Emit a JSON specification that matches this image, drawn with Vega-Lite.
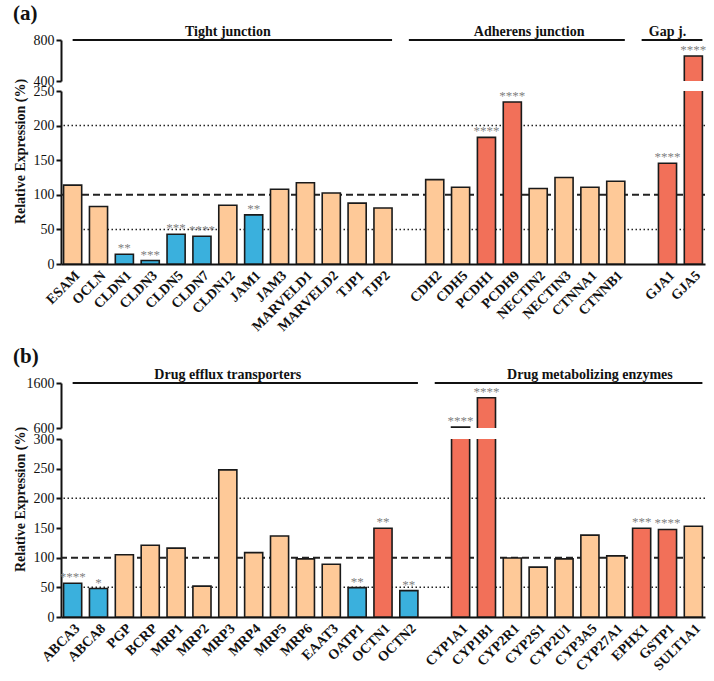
{
  "$schema": "https://vega.github.io/schema/vega-lite/v6.json",
  "background": "white",
  "padding": {"left": 12, "top": 3, "right": 0, "bottom": 0},
  "spacing": 12,
  "datasets": {
    "a": [
      {"gene": "ESAM", "value": 114, "reg": "ns", "stars": ""},
      {"gene": "OCLN", "value": 83, "reg": "ns", "stars": ""},
      {"gene": "CLDN1", "value": 14, "reg": "down", "stars": "**"},
      {"gene": "CLDN3", "value": 5, "reg": "down", "stars": "***"},
      {"gene": "CLDN5", "value": 43, "reg": "down", "stars": "***"},
      {"gene": "CLDN7", "value": 40, "reg": "down", "stars": "****"},
      {"gene": "CLDN12", "value": 85, "reg": "ns", "stars": ""},
      {"gene": "JAM1", "value": 71, "reg": "down", "stars": "**"},
      {"gene": "JAM3", "value": 108, "reg": "ns", "stars": ""},
      {"gene": "MARVELD1", "value": 117.5, "reg": "ns", "stars": ""},
      {"gene": "MARVELD2", "value": 102.6, "reg": "ns", "stars": ""},
      {"gene": "TJP1", "value": 88, "reg": "ns", "stars": ""},
      {"gene": "TJP2", "value": 81, "reg": "ns", "stars": ""},
      {"gene": "CDH2", "value": 122, "reg": "ns", "stars": ""},
      {"gene": "CDH5", "value": 111, "reg": "ns", "stars": ""},
      {"gene": "PCDH1", "value": 183, "reg": "up", "stars": "****"},
      {"gene": "PCDH9", "value": 234, "reg": "up", "stars": "****"},
      {"gene": "NECTIN2", "value": 109, "reg": "ns", "stars": ""},
      {"gene": "NECTIN3", "value": 125, "reg": "ns", "stars": ""},
      {"gene": "CTNNA1", "value": 111, "reg": "ns", "stars": ""},
      {"gene": "CTNNB1", "value": 119.5, "reg": "ns", "stars": ""},
      {"gene": "GJA1", "value": 145.5, "reg": "up", "stars": "****"},
      {"gene": "GJA5", "value": 644, "reg": "up", "stars": "****"}
    ],
    "b": [
      {"gene": "ABCA3", "value": 57, "reg": "down", "stars": "****"},
      {"gene": "ABCA8", "value": 48, "reg": "down", "stars": "*"},
      {"gene": "PGP", "value": 105, "reg": "ns", "stars": ""},
      {"gene": "BCRP", "value": 121, "reg": "ns", "stars": ""},
      {"gene": "MRP1", "value": 116, "reg": "ns", "stars": ""},
      {"gene": "MRP2", "value": 52, "reg": "ns", "stars": ""},
      {"gene": "MRP3", "value": 248, "reg": "ns", "stars": ""},
      {"gene": "MRP4", "value": 108.5, "reg": "ns", "stars": ""},
      {"gene": "MRP5", "value": 136.5, "reg": "ns", "stars": ""},
      {"gene": "MRP6", "value": 98, "reg": "ns", "stars": ""},
      {"gene": "EAAT3", "value": 89, "reg": "ns", "stars": ""},
      {"gene": "OATP1", "value": 49.5, "reg": "down", "stars": "**"},
      {"gene": "OCTN1", "value": 149.5, "reg": "up", "stars": "**"},
      {"gene": "OCTN2", "value": 44.5, "reg": "down", "stars": "**"},
      {"gene": "CYP1A1", "value": 620, "reg": "up", "stars": "****"},
      {"gene": "CYP1B1", "value": 1273, "reg": "up", "stars": "****"},
      {"gene": "CYP2R1", "value": 99.5, "reg": "ns", "stars": ""},
      {"gene": "CYP2S1", "value": 84, "reg": "ns", "stars": ""},
      {"gene": "CYP2U1", "value": 98, "reg": "ns", "stars": ""},
      {"gene": "CYP3A5", "value": 138, "reg": "ns", "stars": ""},
      {"gene": "CYP27A1", "value": 103, "reg": "ns", "stars": ""},
      {"gene": "EPHX1", "value": 149.5, "reg": "up", "stars": "***"},
      {"gene": "GSTP1", "value": 147.5, "reg": "up", "stars": "****"},
      {"gene": "SULT1A1", "value": 153, "reg": "ns", "stars": ""}
    ],
    "hdr": [
      {"panel": "a", "label": "Tight junction", "start": "ESAM", "end": "TJP2", "anchor": "CLDN12"},
      {"panel": "a", "label": "Adherens junction", "start": " ", "end": "CTNNB1", "anchor": "NECTIN2"},
      {"panel": "a", "label": "Gap j.", "start": "  ", "end": "GJA5", "anchor": "GJA1"},
      {"panel": "b", "label": "Drug efflux transporters", "start": "ABCA3", "end": "OCTN2", "anchor": "MRP3"},
      {"panel": "b", "label": "Drug metabolizing enzymes", "start": " ", "end": "SULT1A1", "anchor": "CYP3A5"}
    ],
    "refs": [
      {"value": 50, "kind": "dot"},
      {"value": 200, "kind": "dot"},
      {"value": 100, "kind": "dash"}
    ]
  },
  "config": {
    "font": "Liberation Serif",
    "view": {"stroke": null},
    "axis": {
      "domainColor": "#111", "domainWidth": 2, "tickColor": "#111", "tickWidth": 2, "tickSize": 5,
      "labelFont": "Liberation Serif", "labelFontSize": 14, "labelColor": "#111", "labelPadding": 2,
      "titleFont": "Liberation Serif", "titleFontSize": 14, "titleFontWeight": "bold", "titleColor": "#111",
      "grid": false, "zindex": 1
    },
    "title": {"font": "Liberation Serif"}
  },
  "vconcat": [
    {
      "title": {"text": "(a)", "anchor": "start", "frame": "bounds", "fontSize": 21, "fontWeight": "bold", "offset": 1, "color": "#111"},
      "bounds": "flush",
      "spacing": 10,
      "vconcat": [
        {
          "width": 644, "height": 41,
          "layer": [
            {
              "data": {"name": "a"},
              "transform": [{"filter": "datum.value > 400"}],
              "mark": {"type": "bar", "clip": true, "stroke": "#1a1a1a", "strokeWidth": 1.6},
              "encoding": {
                "x": {"field": "gene", "type": "nominal", "axis": null, "scale": {"domain": ["ESAM","OCLN","CLDN1","CLDN3","CLDN5","CLDN7","CLDN12","JAM1","JAM3","MARVELD1","MARVELD2","TJP1","TJP2"," ","CDH2","CDH5","PCDH1","PCDH9","NECTIN2","NECTIN3","CTNNA1","CTNNB1","  ","GJA1","GJA5"], "paddingInner": 0.3, "paddingOuter": 0.1}},
                "y": {"field": "value", "type": "quantitative", "scale": {"domain": [400, 800], "nice": false, "zero": false}, "axis": {"values": [400, 800], "title": null, "format": "d"}},
                "y2": {"datum": 300},
                "color": {"field": "reg", "type": "nominal", "legend": null, "scale": {"domain": ["down", "ns", "up"], "range": ["#3AB0DD", "#FEC998", "#F27059"]}}
              }
            },
            {
              "data": {"name": "a"},
              "transform": [{"filter": "datum.value > 400"}],
              "mark": {"type": "text", "baseline": "alphabetic", "dy": -2, "fontSize": 13, "color": "#7f7f7f"},
              "encoding": {
                "x": {"field": "gene", "type": "nominal"},
                "y": {"field": "value", "type": "quantitative", "axis": {"values": [400, 800], "title": null, "format": "d"}},
                "text": {"field": "stars"}
              }
            },
            {
              "data": {"name": "hdr"},
              "transform": [{"filter": "datum.panel == 'a'"}],
              "mark": {"type": "rule", "strokeWidth": 2, "color": "#111"},
              "encoding": {
                "x": {"field": "start", "type": "nominal", "bandPosition": 0.5},
                "x2": {"field": "end", "bandPosition": 1},
                "y": {"datum": 800, "type": "quantitative"}
              }
            },
            {
              "data": {"name": "hdr"},
              "transform": [{"filter": "datum.panel == 'a' && datum.label != 'Adherens junction'"}],
              "mark": {"type": "text", "baseline": "alphabetic", "dy": -4, "fontSize": 14, "fontWeight": "bold", "color": "#111"},
              "encoding": {
                "x": {"field": "anchor", "type": "nominal", "bandPosition": 0.5},
                "y": {"datum": 800, "type": "quantitative"},
                "text": {"field": "label"}
              }
            },
            {
              "data": {"name": "hdr"},
              "transform": [{"filter": "datum.label == 'Adherens junction'"}],
              "mark": {"type": "text", "baseline": "alphabetic", "dy": -4, "fontSize": 14, "fontWeight": "bold", "color": "#111"},
              "encoding": {
                "x": {"field": "anchor", "type": "nominal", "bandPosition": 0},
                "y": {"datum": 800, "type": "quantitative"},
                "text": {"field": "label"}
              }
            }
          ]
        },
        {
          "width": 644, "height": 173,
          "layer": [
            {
              "data": {"name": "refs"},
              "transform": [{"filter": "datum.kind == 'dot'"}],
              "mark": {"type": "rule", "strokeDash": [1.5, 2.5], "strokeWidth": 1.5, "color": "#222"},
              "encoding": {
                "y": {"field": "value", "type": "quantitative", "scale": {"domain": [0, 250], "nice": false}, "axis": {"values": [0, 50, 100, 150, 200, 250], "title": "Relative Expression (%)", "titleX": -41, "titleY": 60, "titleBaseline": "middle"}}
              }
            },
            {
              "data": {"name": "refs"},
              "transform": [{"filter": "datum.kind == 'dash'"}],
              "mark": {"type": "rule", "strokeDash": [7, 4], "strokeWidth": 2, "color": "#222"},
              "encoding": {
                "y": {"field": "value", "type": "quantitative", "axis": {"values": [0, 50, 100, 150, 200, 250], "title": "Relative Expression (%)", "titleX": -41, "titleY": 60, "titleBaseline": "middle"}}
              }
            },
            {
              "data": {"name": "a"},
              "mark": {"type": "bar", "clip": true, "stroke": "#1a1a1a", "strokeWidth": 1.6},
              "encoding": {
                "x": {"field": "gene", "type": "nominal", "scale": {"domain": ["ESAM","OCLN","CLDN1","CLDN3","CLDN5","CLDN7","CLDN12","JAM1","JAM3","MARVELD1","MARVELD2","TJP1","TJP2"," ","CDH2","CDH5","PCDH1","PCDH9","NECTIN2","NECTIN3","CTNNA1","CTNNB1","  ","GJA1","GJA5"], "paddingInner": 0.3, "paddingOuter": 0.1}, "axis": {"title": null, "labelAngle": -45, "labelFontWeight": "bold", "labelFontSize": 14, "ticks": false, "labelPadding": 4}},
                "y": {"field": "value", "type": "quantitative", "axis": {"values": [0, 50, 100, 150, 200, 250], "title": "Relative Expression (%)", "titleX": -41, "titleY": 60, "titleBaseline": "middle"}},
                "color": {"field": "reg", "type": "nominal", "legend": null, "scale": {"domain": ["down", "ns", "up"], "range": ["#3AB0DD", "#FEC998", "#F27059"]}}
              }
            },
            {
              "data": {"name": "a"},
              "transform": [{"filter": "datum.value <= 250"}],
              "mark": {"type": "text", "baseline": "alphabetic", "dy": -2, "fontSize": 13, "color": "#7f7f7f"},
              "encoding": {
                "x": {"field": "gene", "type": "nominal"},
                "y": {"field": "value", "type": "quantitative", "axis": {"values": [0, 50, 100, 150, 200, 250], "title": "Relative Expression (%)", "titleX": -41, "titleY": 60, "titleBaseline": "middle"}},
                "text": {"field": "stars"}
              }
            }
          ]
        }
      ]
    },
    {
      "title": {"text": "(b)", "anchor": "start", "frame": "bounds", "fontSize": 21, "fontWeight": "bold", "offset": 1, "color": "#111"},
      "bounds": "flush",
      "spacing": 11,
      "vconcat": [
        {
          "width": 644, "height": 45,
          "layer": [
            {
              "data": {"name": "b"},
              "transform": [{"filter": "datum.value > 600"}],
              "mark": {"type": "bar", "clip": true, "stroke": "#1a1a1a", "strokeWidth": 1.6},
              "encoding": {
                "x": {"field": "gene", "type": "nominal", "axis": null, "scale": {"domain": ["ABCA3","ABCA8","PGP","BCRP","MRP1","MRP2","MRP3","MRP4","MRP5","MRP6","EAAT3","OATP1","OCTN1","OCTN2"," ","CYP1A1","CYP1B1","CYP2R1","CYP2S1","CYP2U1","CYP3A5","CYP27A1","EPHX1","GSTP1","SULT1A1"], "paddingInner": 0.3, "paddingOuter": 0.1}},
                "y": {"field": "value", "type": "quantitative", "scale": {"domain": [600, 1600], "nice": false, "zero": false}, "axis": {"values": [600, 1600], "title": null, "format": "d"}},
                "y2": {"datum": 400},
                "color": {"field": "reg", "type": "nominal", "legend": null, "scale": {"domain": ["down", "ns", "up"], "range": ["#3AB0DD", "#FEC998", "#F27059"]}}
              }
            },
            {
              "data": {"name": "b"},
              "transform": [{"filter": "datum.value > 600"}],
              "mark": {"type": "text", "baseline": "alphabetic", "dy": -2, "fontSize": 13, "color": "#7f7f7f"},
              "encoding": {
                "x": {"field": "gene", "type": "nominal"},
                "y": {"field": "value", "type": "quantitative", "axis": {"values": [600, 1600], "title": null, "format": "d"}},
                "text": {"field": "stars"}
              }
            },
            {
              "data": {"name": "hdr"},
              "transform": [{"filter": "datum.panel == 'b'"}],
              "mark": {"type": "rule", "strokeWidth": 2, "color": "#111"},
              "encoding": {
                "x": {"field": "start", "type": "nominal", "bandPosition": 0.5},
                "x2": {"field": "end", "bandPosition": 1},
                "y": {"datum": 1600, "type": "quantitative"}
              }
            },
            {
              "data": {"name": "hdr"},
              "transform": [{"filter": "datum.panel == 'b'"}],
              "mark": {"type": "text", "baseline": "alphabetic", "dy": -4, "fontSize": 14, "fontWeight": "bold", "color": "#111"},
              "encoding": {
                "x": {"field": "anchor", "type": "nominal", "bandPosition": 0.5},
                "y": {"datum": 1600, "type": "quantitative"},
                "text": {"field": "label"}
              }
            }
          ]
        },
        {
          "width": 644, "height": 178,
          "layer": [
            {
              "data": {"name": "refs"},
              "transform": [{"filter": "datum.kind == 'dot'"}],
              "mark": {"type": "rule", "strokeDash": [1.5, 2.5], "strokeWidth": 1.5, "color": "#222"},
              "encoding": {
                "y": {"field": "value", "type": "quantitative", "scale": {"domain": [0, 300], "nice": false}, "axis": {"values": [0, 50, 100, 150, 200, 250, 300], "title": "Relative Expression (%)", "titleX": -41, "titleY": 60, "titleBaseline": "middle"}}
              }
            },
            {
              "data": {"name": "refs"},
              "transform": [{"filter": "datum.kind == 'dash'"}],
              "mark": {"type": "rule", "strokeDash": [7, 4], "strokeWidth": 2, "color": "#222"},
              "encoding": {
                "y": {"field": "value", "type": "quantitative", "axis": {"values": [0, 50, 100, 150, 200, 250, 300], "title": "Relative Expression (%)", "titleX": -41, "titleY": 60, "titleBaseline": "middle"}}
              }
            },
            {
              "data": {"name": "b"},
              "mark": {"type": "bar", "clip": true, "stroke": "#1a1a1a", "strokeWidth": 1.6},
              "encoding": {
                "x": {"field": "gene", "type": "nominal", "scale": {"domain": ["ABCA3","ABCA8","PGP","BCRP","MRP1","MRP2","MRP3","MRP4","MRP5","MRP6","EAAT3","OATP1","OCTN1","OCTN2"," ","CYP1A1","CYP1B1","CYP2R1","CYP2S1","CYP2U1","CYP3A5","CYP27A1","EPHX1","GSTP1","SULT1A1"], "paddingInner": 0.3, "paddingOuter": 0.1}, "axis": {"title": null, "labelAngle": -45, "labelFontWeight": "bold", "labelFontSize": 14, "ticks": false, "labelPadding": 4}},
                "y": {"field": "value", "type": "quantitative", "axis": {"values": [0, 50, 100, 150, 200, 250, 300], "title": "Relative Expression (%)", "titleX": -41, "titleY": 60, "titleBaseline": "middle"}},
                "color": {"field": "reg", "type": "nominal", "legend": null, "scale": {"domain": ["down", "ns", "up"], "range": ["#3AB0DD", "#FEC998", "#F27059"]}}
              }
            },
            {
              "data": {"name": "b"},
              "transform": [{"filter": "datum.value <= 300"}],
              "mark": {"type": "text", "baseline": "alphabetic", "dy": -2, "fontSize": 13, "color": "#7f7f7f"},
              "encoding": {
                "x": {"field": "gene", "type": "nominal"},
                "y": {"field": "value", "type": "quantitative", "axis": {"values": [0, 50, 100, 150, 200, 250, 300], "title": "Relative Expression (%)", "titleX": -41, "titleY": 60, "titleBaseline": "middle"}},
                "text": {"field": "stars"}
              }
            }
          ]
        }
      ]
    }
  ]
}
